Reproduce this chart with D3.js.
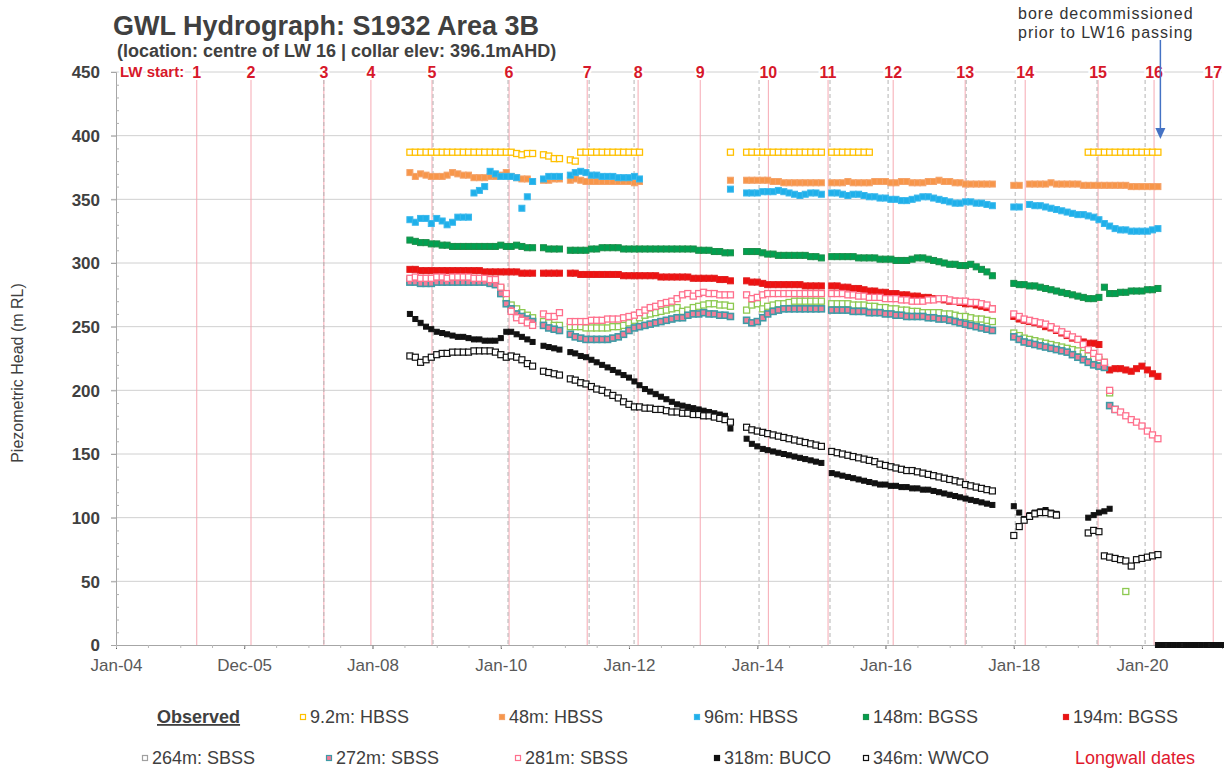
<!DOCTYPE html>
<html><head><meta charset="utf-8">
<script src="https://cdn.jsdelivr.net/npm/d3@7"></script>
<style>
body{margin:0;background:#fff;}
svg text{font-family:"Liberation Sans",Arial,sans-serif;}
</style></head>
<body><svg id="chart" width="1224" height="772"></svg>
<script>
// Monthly groundwater level readings (m RL), stored as runs: [first month, values...]
const s9_2 = [
  ["2008-08",[387,387,387,387,387,387,387,387,387,387,387,387]],
  ["2009-08",[387,387,387,387,387,387,387,387,386,385,386,386]],
  ["2010-09",[385,384,382,382]],
  ["2011-02",[381,380,387,387,387,387,387,387,387,387,387,387,387,387]],
  ["2013-08",[387]],
  ["2013-11",[387,387,387,387,387,387,387,387,387,387,387,387,387,387,387]],
  ["2015-03",[387,387,387,387,387,387,387,387]],
  ["2019-03",[387,387,387,387,387,387,387,387,387,387,387,387,387,387]]
];
const s48 = [
  ["2008-08",[371,368,370,369,368,368,368,369,371,370,369,369]],
  ["2009-08",[367,367,367,368,368,369,371,368,367,366,366,364]],
  ["2010-09",[365,365,366,366]],
  ["2011-02",[365,366,365,364,364,364,364,364,364,364,364,364,363,364]],
  ["2013-08",[365]],
  ["2013-11",[365,365,365,365,365,364,364,363,363,363,363,363,363,363,363]],
  ["2015-03",[363,363,363,364,363,363,363,363,364,364,364,363,363,364,364,363,363,363,364,364,365,364,364,363,363,362,362,362,362,362,362]],
  ["2018-01",[361,361]],
  ["2018-04",[362,362,362,362,363,362,362,362,362,362,361,361,361,361,361,361,361,361,361,360,360,360,360,360,360]]
];
const s96 = [
  ["2008-08",[334,332,335,335,331,335,333,330,332,336,336,336]],
  ["2009-08",[355,357,360,372,370,368,368,368,367,343,352,364]],
  ["2010-09",[366,368,368,368]],
  ["2011-02",[369,371,372,371,369,369,368,368,368,367,367,367,368,366]],
  ["2013-08",[358]],
  ["2013-11",[355,355,355,356,356,356,357,356,355,354,353,354,355,355,354]],
  ["2015-03",[355,355,354,353,354,354,353,352,352,351,351,350,350,349,349,350,351,352,352,351,350,349,348,347,347,348,348,347,347,346,345]],
  ["2018-01",[344,344]],
  ["2018-04",[346,345,345,344,343,342,341,340,339,338,338,337,336,334,331,329,327,326,326,325,325,325,325,326,327]]
];
const s148 = [
  ["2008-08",[318,317,316,316,315,315,314,314,313,313,313,313]],
  ["2009-08",[313,313,313,313,313,314,313,313,314,313,312,312]],
  ["2010-09",[312,311,311,311]],
  ["2011-02",[310,310,310,310,311,311,312,312,312,312,311,311,311,311,311,311,311,311,311,311,311,311,311,311,310,310,310,309,309,308,308]],
  ["2013-11",[309,309,309,308,307,307,306,306,306,306,306,306,305,305,304]],
  ["2015-03",[305,305,305,305,305,304,304,304,304,303,303,303,302,302,302,303,304,304,303,302,301,300,299,299,298,298,299,297,295,293,290]],
  ["2018-01",[284,283,283,282,282,281,280,279,278,277,276,275,274,273,272,272,273,281,276,276,277,277,278,278,278,279,279,280]]
];
const s194 = [
  ["2008-08",[295,295,294,294,294,294,294,294,294,294,294,294]],
  ["2009-08",[294,294,293,293,293,293,293,293,293,292,292,292]],
  ["2010-09",[292,292,292,292]],
  ["2011-02",[292,292,291,291,291,291,291,291,291,291,290,290,290,290,290,290,290,289,289,289,289,289,289,288,288,288,288,288,287,287,286]],
  ["2013-11",[286,285,285,284,283,283,283,283,283,283,283,282,282,282,282]],
  ["2015-03",[282,282,281,281,280,280,279,278,278,277,277,276,276,275,275,274,274,273,273,272,272,271,270,270,269,268,268,267,266,265,264]],
  ["2018-01",[258,256,255,254,253,252,250,249,247,245,243,241,240,238,237,237,236]],
  ["2019-07",[216,217,217,216,215,217,219,216,213,211]]
];
const s264 = [
  ["2008-08",[287,286,286,286,286,287,287,287,287,287,287,287]],
  ["2009-08",[286,286,286,285,285,280,272,267,264,261,259,257]],
  ["2010-09",[254,253,251,251]],
  ["2011-02",[250,250,250,249,249,249,249,249,250,250,251,253,255,257,259,260,261,262,263,264,265,262,263,265,266,267,268,268,267,267,266]],
  ["2013-11",[263,267,268,264,266,267,268,268,269,270,270,270,270,270,270]],
  ["2015-03",[268,268,268,268,267,267,267,266,266,265,265,264,264,263,263,262,262,261,261,261,261,260,260,259,258,258,257,256,256,255,254]],
  ["2018-01",[245,243,241,240,239,238,237,236,235,234,233,232,231,229,227,225,224,222,198]],
  ["2019-10",[42]]
];
const s272 = [
  ["2008-08",[285,285,284,284,284,285,285,285,285,285,285,285]],
  ["2009-08",[285,285,285,284,283,276,268,264,260,258,256,254]],
  ["2010-09",[251,249,248,247]],
  ["2011-02",[244,242,241,240,240,240,240,240,241,242,244,247,249,250,251,252,253,254,255,256,257,257,259,260,260,261,260,260,259,259,258]],
  ["2013-11",[255,253,254,257,260,262,263,264,264,264,264,264,264,264,264]],
  ["2015-03",[263,263,263,263,262,262,262,261,261,261,260,260,259,259,258,258,258,258,257,257,256,256,255,254,253,252,251,250,249,248,247]],
  ["2018-01",[242,240,238,237,236,235,234,233,232,231,230,228,226,224,222,220,219,218,188,185]]
];
const s281 = [
  ["2008-08",[288,289,288,288,288,289,289,288,289,289,289,289]],
  ["2009-08",[288,288,288,287,287,281,276,262,257,255,253,251]],
  ["2010-09",[260,258,258,261]],
  ["2011-02",[254,254,254,254,255,255,255,256,256,256,257,258,259,261,263,265,266,268,269,270,272,275,276,274,276,277,276,276,275,275,275]],
  ["2013-11",[275,272,273,275,276,276,276,276,276,276,276,276,276,276,276]],
  ["2015-03",[276,276,276,275,275,274,274,273,273,273,272,272,272,271,271,270,270,270,271,271,272,272,271,270,270,270,269,269,268,267,264]],
  ["2018-01",[260,258,256,255,254,253,252,250,248,246,244,242,240,236,232,229,226,222,200,185,183,180,177,175,172,168,165,162]]
];
const s318 = [
  ["2008-08",[260,256,253,250,248,246,245,244,243,242,242,241]],
  ["2009-08",[240,240,239,239,239,241,246,246,244,242,240,238]],
  ["2010-09",[235,234,233,232]],
  ["2011-02",[230,229,227,226,224,222,220,218,216,214,212,210,207,204,201,199,197,195,193,191,189,188,187,186,185,184,183,182,181,180,170]],
  ["2013-11",[162,158,156,154,153,152,151,150,149,148,147,146,145,144,143]],
  ["2015-03",[135,134,133,132,131,130,129,128,127,126,126,125,125,124,124,123,123,122,122,121,120,119,118,117,116,115,114,113,112,111,110]],
  ["2018-01",[109,104,99,102,104,105,106,104,103]],
  ["2019-03",[100,102,104,105,107]],
  ["2020-04",[0,0,0,0,0,0,0,0,0,0,0,0,0]]
];
const s346 = [
  ["2008-08",[227,226,222,224,226,228,229,229,230,230,230,230]],
  ["2009-08",[231,231,231,231,230,228,226,227,226,224,221,219]],
  ["2010-09",[215,214,213,212]],
  ["2011-02",[209,208,206,205,203,201,200,198,196,194,191,189,187,187,186,186,185,185,184,183,183,182,182,181,181,180,180,179,178,177,175]],
  ["2013-11",[171,169,168,167,166,165,164,163,162,161,160,159,158,157,156]],
  ["2015-03",[152,151,150,149,148,147,146,145,144,142,141,140,139,138,137,137,136,135,134,133,132,131,130,129,128,126,125,124,123,122,121]],
  ["2018-01",[86,93,98,101,103,104,104,103,102]],
  ["2019-03",[88,90,89,70,69,68,67,66,62,67,68,69,70,71]]
];

const seriesNames = ["9.2m: HBSS","48m: HBSS","96m: HBSS","148m: BGSS","194m: BGSS",
                     "264m: SBSS","272m: SBSS","281m: SBSS","318m: BUCO","346m: WWCO"];
const seriesData = [s9_2,s48,s96,s148,s194,s264,s272,s281,s318,s346];

// Longwall start dates
const lwLabels = ["1","2","3","4","5","6","7","8","9","10","11","12","13","14","15","16","17"];
const lwStart = ["2005-04-05","2006-02-08","2007-03-30","2007-12-23","2008-12-05","2010-02-17",
  "2011-05-08","2012-02-22","2013-02-10","2014-03-05","2015-02-08","2016-02-14","2017-03-30",
  "2018-03-07","2019-04-26","2020-03-10","2021-02-10"];
// Longwall finish dates
const lwFinish = ["2007-03-30","2008-12-11","2010-02-11","2011-05-19","2012-01-30","2014-01-11",
  "2015-02-19","2016-01-16","2017-04-05","2018-01-09","2019-04-20","2020-01-19"];

const xTickDates = ["2004-01-01","2005-12-31","2008-01-01","2010-01-01","2012-01-01","2014-01-01","2016-01-01","2018-01-01","2020-01-01"];
const xTickLabels = ["Jan-04","Dec-05","Jan-08","Jan-10","Jan-12","Jan-14","Jan-16","Jan-18","Jan-20"];
const yTicks = [0,50,100,150,200,250,300,350,400,450];

// marker styles, one per series
const markerStyle = [
  {fill:"#ffffff", stroke:"#ffc000", sw:1.3, size:6},
  {fill:"#f7964a", stroke:"#f5a36a", sw:1,   size:6},
  {fill:"#1fb0ea", stroke:"#3bb8ec", sw:1,   size:6},
  {fill:"#00a050", stroke:"#1c8f4a", sw:1,   size:6},
  {fill:"#ee1111", stroke:"#e22020", sw:1,   size:6},
  {fill:"#ffffff", stroke:"#8cc950", sw:1.3, size:6},
  {fill:"#f27d98", stroke:"#3f9aa6", sw:1.6, size:6},
  {fill:"#ffffff", stroke:"#ff6f8c", sw:1.3, size:6},
  {fill:"#111111", stroke:"#111111", sw:1,   size:5},
  {fill:"#ffffff", stroke:"#111111", sw:1.2, size:6}
];
const legendStyle = markerStyle.map((s,i)=> i===5 ? {fill:"#ffffff", stroke:"#a0a0a0", sw:1.2, size:6} : s);

const parseDay = d3.timeParse("%Y-%m-%d");
const parseMonth = d3.timeParse("%Y-%m");

const svg = d3.select("#chart");
const plotL = 116, plotR = 1222, plotT = 72, plotB = 645;
const x = d3.scaleTime().domain([new Date(2004,0,1), new Date(2021,3,1)]).range([plotL, plotR]);
const y = d3.scaleLinear().domain([0,450]).range([plotB, plotT]);

// horizontal gridlines
svg.append("g").selectAll("line").data(yTicks.filter(v=>v>0)).join("line")
  .attr("x1", plotL-5).attr("x2", plotR).attr("y1", d=>y(d)).attr("y2", d=>y(d))
  .attr("stroke", "#d0d0d0").attr("stroke-width", 1);

// y axis
const yAxis = svg.append("g").attr("transform", `translate(${plotL},0)`)
  .call(d3.axisLeft(y).tickValues(yTicks).tickSize(5).tickFormat(d3.format("d")));
yAxis.select(".domain").attr("stroke", "#a6a6a6");
yAxis.selectAll(".tick line").attr("stroke", "#a6a6a6");
yAxis.selectAll("text").attr("x", -16).attr("fill", "#404040")
  .style("font-size","17px").style("font-weight","bold").attr("dy","0.35em");
svg.append("g").attr("transform", `translate(${plotL},0)`)
  .call(d3.axisRight(y).tickValues(d3.range(10,450,10).filter(v=>v%50)).tickSize(3).tickFormat(""))
  .call(g=>g.select(".domain").remove())
  .selectAll("line").attr("stroke","#b0b0b0");

// x axis
const xAxis = svg.append("g").attr("transform", `translate(0,${plotB})`)
  .call(d3.axisBottom(x).tickValues(xTickDates.map(parseDay)).tickSize(4)
    .tickFormat((d,i)=>xTickLabels[i]));
xAxis.select(".domain").attr("stroke", "#a6a6a6");
xAxis.selectAll(".tick line").attr("stroke", "#595959");
xAxis.selectAll("text").attr("y", 14).attr("fill", "#595959").style("font-size","17px");
svg.append("g").attr("transform", `translate(0,${plotB})`)
  .call(d3.axisBottom(x).ticks(d3.timeMonth.every(6)).tickSize(3).tickFormat(""))
  .call(g=>g.select(".domain").remove())
  .selectAll("line").attr("stroke","#b8b8b8");

// longwall start lines (pink) and finish lines (grey dashed)
svg.append("g").selectAll("line").data(lwStart).join("line")
  .attr("x1", d=>x(parseDay(d))).attr("x2", d=>x(parseDay(d)))
  .attr("y1", plotT+8).attr("y2", plotB)
  .attr("stroke", "#f6a9b3").attr("stroke-width", 1);
svg.append("g").selectAll("line").data(lwFinish).join("line")
  .attr("x1", d=>x(parseDay(d))).attr("x2", d=>x(parseDay(d)))
  .attr("y1", plotT+8).attr("y2", plotB)
  .attr("stroke", "#b4b4b4").attr("stroke-width", 1).attr("stroke-dasharray","4,3");

// y axis title
svg.append("text").attr("transform", "translate(23,373) rotate(-90)")
  .attr("text-anchor","middle").attr("fill","#404040").style("font-size","16px")
  .text("Piezometric Head (m RL)");

// observed series
seriesData.forEach((runs, si) => {
  const st = markerStyle[si];
  const pts = [];
  runs.forEach(([m, vals]) => {
    const d0 = parseMonth(m);
    vals.forEach((v,i) => pts.push({d: d3.timeMonth.offset(d0, i), v}));
  });
  svg.append("g").selectAll("rect").data(pts).join("rect")
    .attr("x", p=>x(p.d)-st.size/2).attr("y", p=>y(p.v)-st.size/2)
    .attr("width", st.size).attr("height", st.size)
    .attr("fill", st.fill).attr("stroke", st.stroke).attr("stroke-width", st.sw);
});

// longwall labels along the top
const lwG = svg.append("g");
lwG.append("text").attr("x", 120).attr("y", plotT+5).attr("fill","#d7182a")
  .style("font-size","15px").style("font-weight","bold")
  .attr("paint-order","stroke").attr("stroke","#fff").attr("stroke-width",4)
  .text("LW start:");
lwG.selectAll("text.lw").data(lwStart).join("text").attr("class","lw")
  .attr("x", d=>x(parseDay(d))).attr("y", plotT+6).attr("text-anchor","middle")
  .attr("fill","#d7182a").style("font-size","16px").style("font-weight","bold")
  .attr("paint-order","stroke").attr("stroke","#fff").attr("stroke-width",4)
  .text((d,i)=>lwLabels[i]);

// title
svg.append("text").attr("x",113).attr("y",35).attr("fill","#404040")
  .style("font-size","27px").style("font-weight","bold").text("GWL Hydrograph: S1932 Area 3B");
svg.append("text").attr("x",117).attr("y",57).attr("fill","#404040")
  .style("font-size","18px").style("font-weight","bold")
  .text("(location: centre of LW 16 | collar elev: 396.1mAHD)");

// decommission note and arrow
const noteDate = parseDay("2020-04-15");
svg.append("text").attr("x",1018).attr("y",19).attr("fill","#333")
  .style("font-size","16px").style("letter-spacing","1px").text("bore decommissioned");
svg.append("text").attr("x",1018).attr("y",38).attr("fill","#333")
  .style("font-size","16px").style("letter-spacing","1px").text("prior to LW16 passing");
svg.append("line").attr("x1",x(noteDate)).attr("x2",x(noteDate)).attr("y1",40).attr("y2",130)
  .attr("stroke","#4472c4").attr("stroke-width",1.5);
svg.append("path")
  .attr("d",`M${x(noteDate)-5},128 L${x(noteDate)+5},128 L${x(noteDate)},139 Z`)
  .attr("fill","#4472c4");

// legend
const legendItems = [
  {i:0, mx:303, row:0},{i:1, mx:502, row:0},{i:2, mx:697, row:0},{i:3, mx:866, row:0},{i:4, mx:1066, row:0},
  {i:5, mx:145, row:1},{i:6, mx:329, row:1},{i:7, mx:518, row:1},{i:8, mx:717, row:1},{i:9, mx:866, row:1}
];
const rowY = [717, 758];
svg.append("text").attr("x",157).attr("y",rowY[0]+6).attr("fill","#404040")
  .style("font-size","18px").style("font-weight","bold").style("text-decoration","underline")
  .text("Observed");
const lg = svg.append("g");
legendItems.forEach(it => {
  const st = legendStyle[it.i];
  const cy = rowY[it.row];
  lg.append("rect").attr("x", it.mx-2.5).attr("y", cy-2.5).attr("width",5).attr("height",5)
    .attr("fill", st.fill).attr("stroke", st.stroke).attr("stroke-width", 1.2);
  lg.append("text").attr("x", it.mx+7).attr("y", cy+6).attr("fill","#404040")
    .style("font-size","18px").text(seriesNames[it.i]);
});
lg.append("text").attr("x",1075).attr("y",rowY[1]+6).attr("fill","#e0182d")
  .style("font-size","18px").text("Longwall dates");
</script>
</body></html>
